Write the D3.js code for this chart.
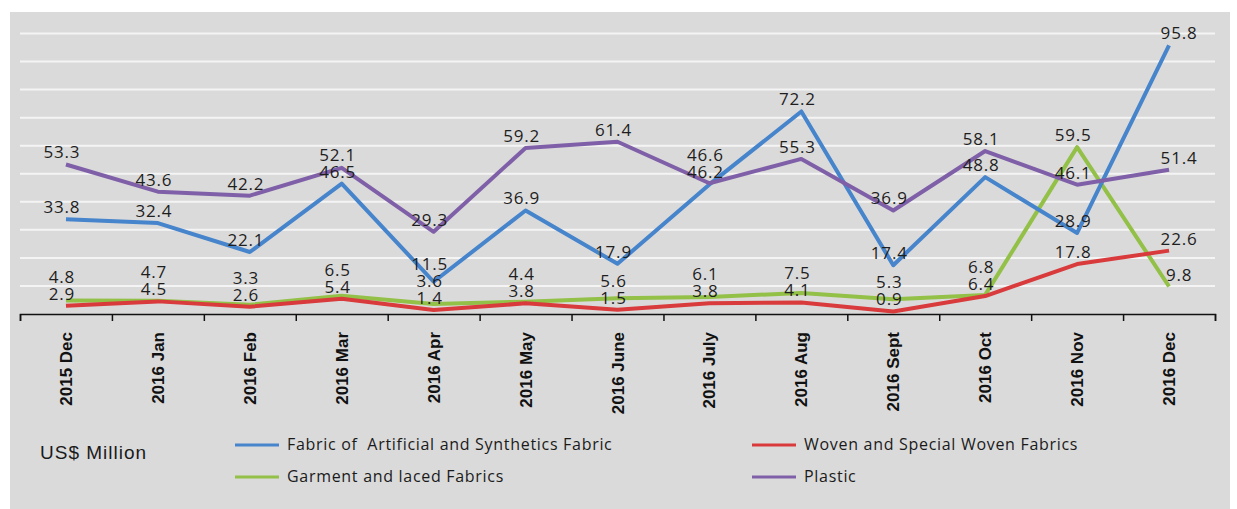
<!DOCTYPE html>
<html>
<head>
<meta charset="utf-8">
<script src="https://cdn.jsdelivr.net/npm/d3@7/dist/d3.min.js"></script>
<style>
  html, body { margin: 0; padding: 0; background: #ffffff; }
  svg { display: block; }
  text { white-space: pre; }
</style>
</head>
<body>
<svg id="chart" width="1237" height="509"></svg>
<script>
const categories = ["2015 Dec","2016 Jan","2016 Feb","2016 Mar","2016 Apr","2016 May","2016 June","2016 July","2016 Aug","2016 Sept","2016 Oct","2016 Nov","2016 Dec"];
const fabricArtificial = [33.8, 32.4, 22.1, 46.5, 11.5, 36.9, 17.9, 46.2, 72.2, 17.4, 48.8, 28.9, 95.8];
const wovenSpecial     = [2.9, 4.5, 2.6, 5.4, 1.4, 3.8, 1.5, 3.8, 4.1, 0.9, 6.4, 17.8, 22.6];
const garmentLaced     = [4.8, 4.7, 3.3, 6.5, 3.6, 4.4, 5.6, 6.1, 7.5, 5.3, 6.8, 59.5, 9.8];
const plastic          = [53.3, 43.6, 42.2, 52.1, 29.3, 59.2, 61.4, 46.6, 55.3, 36.9, 58.1, 46.1, 51.4];
const gridTicks = [10, 20, 30, 40, 50, 60, 70, 80, 90, 100];
const unitLabel = "US$ Million";

const series = [
  { name: "Fabric of  Artificial and Synthetics Fabric", values: fabricArtificial, color: "#4684cc" },
  { name: "Woven and Special Woven Fabrics", values: wovenSpecial, color: "#d93a3c" },
  { name: "Garment and laced Fabrics", values: garmentLaced, color: "#93c047" },
  { name: "Plastic", values: plastic, color: "#7f60a8" }
];
const drawOrder = [2, 1, 0, 3];

const svg = d3.select("#chart");
svg.append("rect").attr("x", 10).attr("y", 12).attr("width", 1220).attr("height", 497).attr("fill", "#dadada");

const x = d3.scaleBand().domain(categories).range([20, 1215]).padding(0);
const xb = d3.scaleLinear().domain([0, categories.length]).range([20, 1215]);
const y = d3.scaleLinear().domain([0, 100]).range([314, 33.5]);
const cx = c => x(c) + x.bandwidth() / 2;

// gridlines
svg.append("g").selectAll("line").data(gridTicks).join("line")
  .attr("x1", 20).attr("x2", 1215)
  .attr("y1", d => y(d)).attr("y2", d => y(d))
  .attr("stroke", "#f4f4f4").attr("stroke-width", 2);

// x axis with boundary ticks
const axis = d3.axisBottom(xb).tickValues(d3.range(0, categories.length + 1)).tickFormat("").tickSizeOuter(0).tickSize(7);
const ag = svg.append("g").attr("transform", `translate(0,${y(0)})`).call(axis);
ag.select(".domain").attr("stroke", "#111").attr("stroke-width", 1.5);
ag.selectAll(".tick line").attr("stroke", "#111").attr("stroke-width", 1.5);

// category labels (rotated)
svg.append("g").selectAll("text").data(categories).join("text")
  .attr("transform", d => `translate(${cx(d) + 6},332) rotate(-90)`)
  .attr("text-anchor", "end")
  .attr("font-family", "Liberation Sans, Arial, sans-serif")
  .attr("font-weight", "bold")
  .attr("font-size", 17)
  .attr("fill", "#111")
  .text(d => d);

// lines
const line = d3.line().x((v, i) => cx(categories[i])).y(v => y(v));
drawOrder.forEach(si => {
  const s = series[si];
  svg.append("path").datum(s.values)
    .attr("d", line)
    .attr("fill", "none")
    .attr("stroke", s.color)
    .attr("stroke-width", 4)
    .attr("stroke-linejoin", "round");
});

// data labels: above each point, then pushed up when they collide within a column
const last = categories.length - 1;
const labels = [];
series.forEach(s => s.values.forEach((v, i) => labels.push({ i, v, y: y(v) - 6 })));
const minGap = 17;
d3.groups(labels, d => d.i).forEach(([, col]) => {
  col.sort((a, b) => b.y - a.y);
  for (let k = 1; k < col.length; k++) {
    if (col[k - 1].y - col[k].y < minGap) col[k].y = col[k - 1].y - minGap;
  }
});
svg.append("g").selectAll("text").data(labels).join("text")
  .attr("x", d => cx(categories[d.i]) + (d.i === last ? 10 : -4))
  .attr("y", d => d.y)
  .attr("text-anchor", "middle")
  .attr("font-family", "Open Sans, sans-serif")
  .attr("font-size", 17)
  .attr("letter-spacing", 0.8)
  .attr("fill", "#1e1e1e")
  .text(d => d.v.toFixed(1));

// legend
svg.append("text").attr("x", 40).attr("y", 459)
  .attr("font-family", "Liberation Sans, Arial, sans-serif")
  .attr("font-size", 19).attr("letter-spacing", 1)
  .attr("fill", "#1a1a1a").text(unitLabel);

const legendPos = [
  { lx: 235, ly: 445 },
  { lx: 752, ly: 445 },
  { lx: 235, ly: 477 },
  { lx: 752, ly: 477 }
];
series.forEach((s, i) => {
  const p = legendPos[i];
  const g = svg.append("g");
  g.append("line").attr("x1", p.lx).attr("x2", p.lx + 44).attr("y1", p.ly).attr("y2", p.ly)
    .attr("stroke", s.color).attr("stroke-width", 3);
  g.append("text").attr("x", p.lx + 52).attr("y", p.ly + 5)
    .attr("font-family", "Open Sans, sans-serif").attr("font-size", 16)
    .attr("letter-spacing", 0.7)
    .attr("fill", "#1a1a1a").text(s.name);
});
</script>
</body>
</html>
